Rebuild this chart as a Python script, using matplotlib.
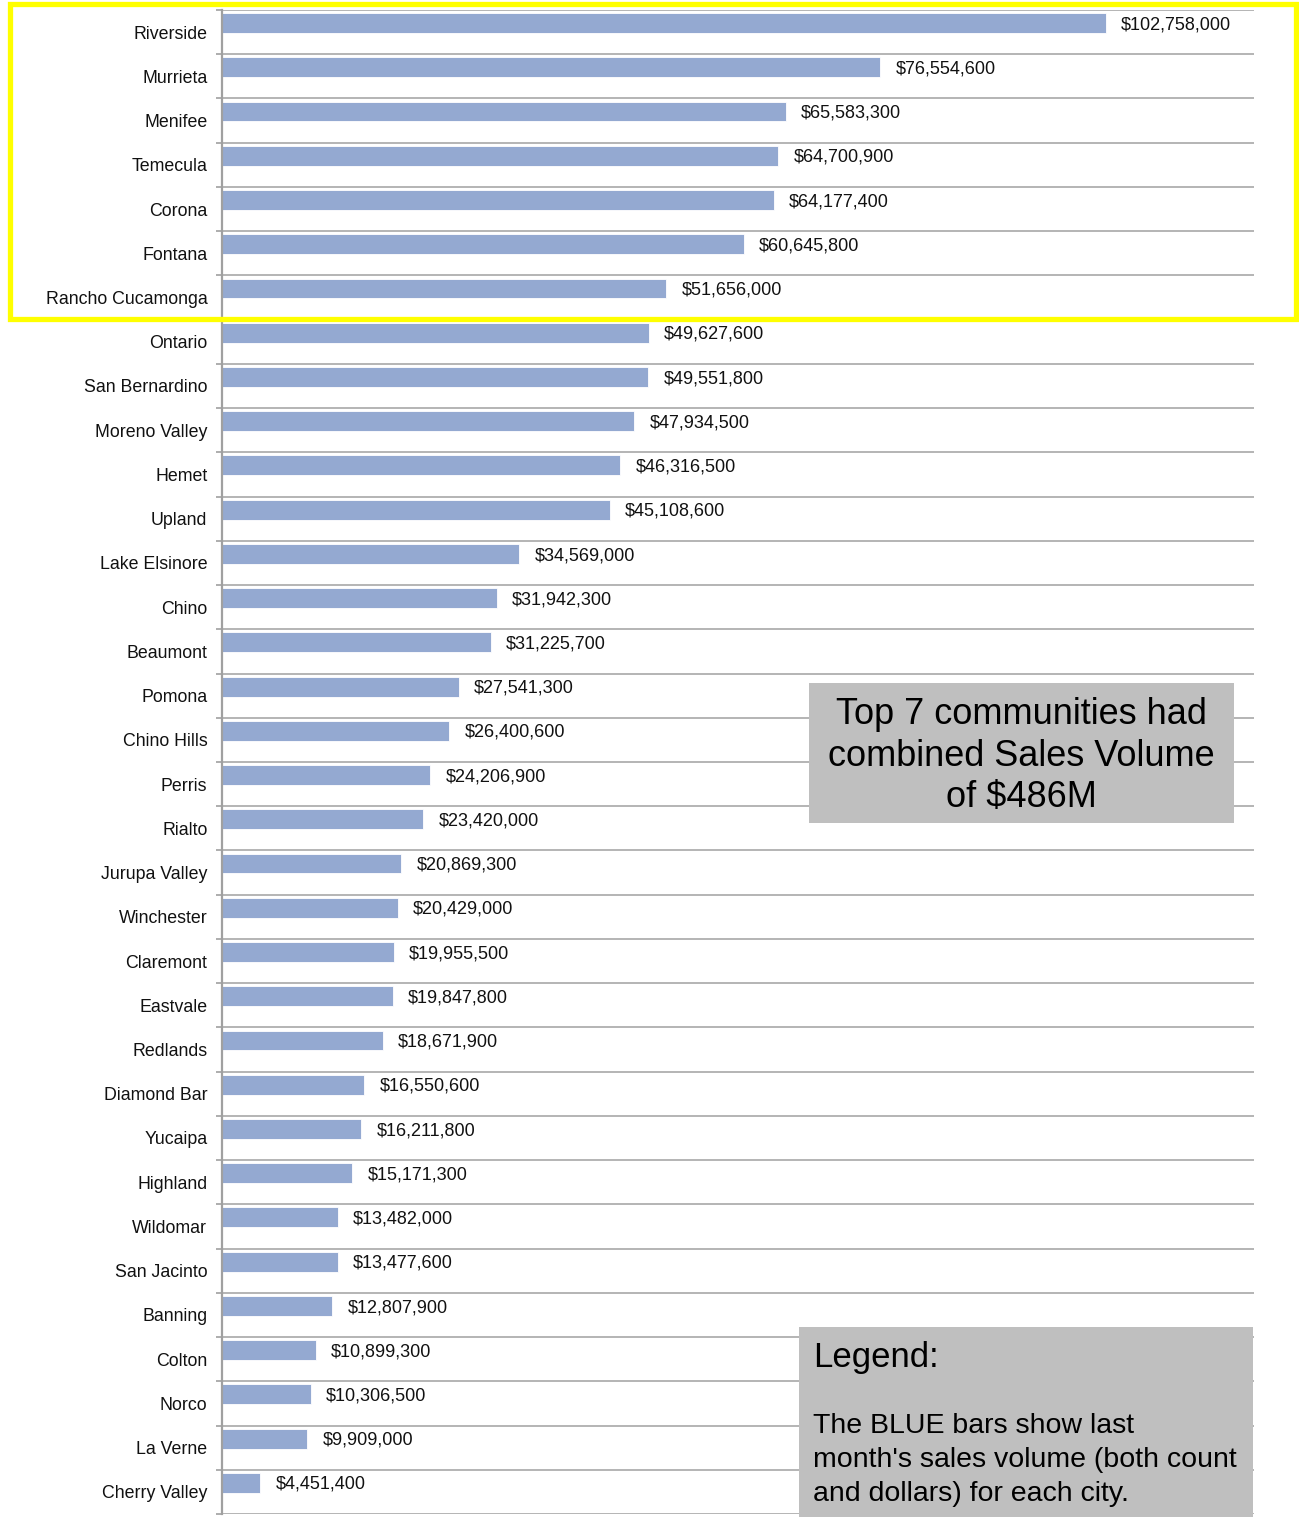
import matplotlib
matplotlib.use("Agg")
import matplotlib.pyplot as plt
from matplotlib.patches import Rectangle
import numpy as np

plt.rcParams['font.family'] = ['Liberation Sans', 'DejaVu Sans']

cities = ["Riverside", "Murrieta", "Menifee", "Temecula", "Corona", "Fontana",
          "Rancho Cucamonga", "Ontario", "San Bernardino", "Moreno Valley", "Hemet",
          "Upland", "Lake Elsinore", "Chino", "Beaumont", "Pomona", "Chino Hills",
          "Perris", "Rialto", "Jurupa Valley", "Winchester", "Claremont", "Eastvale",
          "Redlands", "Diamond Bar", "Yucaipa", "Highland", "Wildomar", "San Jacinto",
          "Banning", "Colton", "Norco", "La Verne", "Cherry Valley"]
volumes = [102758000, 76554600, 65583300, 64700900, 64177400, 60645800,
           51656000, 49627600, 49551800, 47934500, 46316500,
           45108600, 34569000, 31942300, 31225700, 27541300, 26400600,
           24206900, 23420000, 20869300, 20429000, 19955500, 19847800,
           18671900, 16550600, 16211800, 15171300, 13482000, 13477600,
           12807900, 10899300, 10306500, 9909000, 4451400]

top_note = "Top 7 communities had\ncombined Sales Volume\nof $486M"
legend_title = "Legend:"
legend_body = "The BLUE bars show last\nmonth's sales volume (both count\nand dollars) for each city."

W, H = 1299, 1517
fig = plt.figure(figsize=(W / 100, H / 100), dpi=100)

def fx(px):
    return px / W

def fy(py):
    return 1 - py / H

ax_l, ax_r, ax_t, ax_b = 222, 1254, 10, 1514
ax = fig.add_axes([fx(ax_l), fy(ax_b), fx(ax_r - ax_l), (ax_b - ax_t) / H])

n = len(cities)
idx = np.arange(n)
bar_color = "#94A9D1"
grid_color = "#A0A0A0"

ax.barh(idx + 0.295, volumes, height=0.45, color=bar_color,
        edgecolor="white", linewidth=0.6, zorder=3)

for i, v in enumerate(volumes):
    ax.annotate(f"${v:,.0f}", xy=(v, i + 0.295), xytext=(11, -1.2),
                textcoords="offset points", ha="left", va="center",
                fontsize=13, color="#111111")

ax.set_xlim(0, 120e6)
ax.set_ylim(n, 0)
ax.set_xticks([])

ax.set_yticks(np.arange(n + 1))
ax.set_yticklabels([])
ax.set_yticks(idx + 0.5, minor=True)
ax.set_yticklabels(cities, minor=True, fontsize=12.8, color="#111111")
ax.tick_params(axis="y", which="major", length=4, width=1.2, color=grid_color, direction="out")
ax.tick_params(axis="y", which="minor", length=0, pad=10.5)
ax.yaxis.grid(True, which="major", color=grid_color, linewidth=1.1, zorder=1)
ax.set_axisbelow(True)

for s in ["top", "right", "bottom"]:
    ax.spines[s].set_visible(False)
ax.spines["left"].set_color(grid_color)
ax.spines["left"].set_linewidth(1.6)
ax.spines["left"].set_zorder(4)

# Annotation box (top 7)
fig.patches.append(Rectangle((fx(809), fy(823)), fx(1234 - 809), (823 - 683) / H,
                             transform=fig.transFigure, facecolor="#BFBFBF",
                             edgecolor="none", zorder=5))
fig.text(fx(1021), fy(756), top_note, ha="center", va="center", fontsize=26,
         linespacing=1.24, color="#000000", zorder=6)

# Legend box
fig.patches.append(Rectangle((fx(799), 0), fx(1253 - 799), (1517 - 1327) / H,
                             transform=fig.transFigure, facecolor="#BFBFBF",
                             edgecolor="none", zorder=5))
fig.text(fx(813), fy(1357), legend_title, ha="left", va="center", fontsize=25,
         color="#000000", zorder=6)
fig.text(fx(813), fy(1460), legend_body, ha="left", va="center", fontsize=20.5,
         linespacing=1.38, color="#000000", zorder=6)

# Yellow highlight around top 7
fig.patches.append(Rectangle((fx(9.5), fy(319)), fx(1295.5 - 9.5), (319 - 4) / H,
                             transform=fig.transFigure, facecolor="none",
                             edgecolor="#FFFF00", linewidth=3.8, zorder=7))

fig.savefig("out.png", dpi=100, facecolor="white")
